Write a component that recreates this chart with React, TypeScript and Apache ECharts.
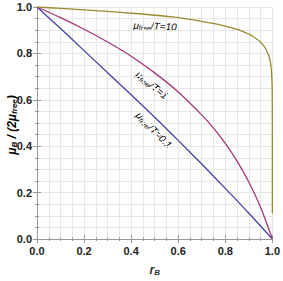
import React, { useEffect, useRef } from "react";
import * as echarts from "echarts";

const rB01 = [0, 0.1, 0.2, 0.3, 0.4, 0.5, 0.6, 0.7, 0.8, 0.9, 1.0];
const mu01 = [1, 0.907, 0.812, 0.717, 0.622, 0.525, 0.425, 0.323, 0.218, 0.111, 0];

const rB1 = [0, 0.1, 0.2, 0.3, 0.4, 0.5, 0.6, 0.7, 0.75, 0.8, 0.85, 0.9, 0.95, 1.0];
const mu1 = [1, 0.954, 0.904, 0.849, 0.788, 0.716, 0.634, 0.535, 0.478, 0.412, 0.336, 0.246, 0.137, 0];

const rB10 = [0, 0.1, 0.2, 0.3, 0.435, 0.575, 0.7, 0.8, 0.86, 0.92, 0.96, 0.985, 0.995, 0.999, 0.9998, 1.0];
const mu10 = [1, 0.994, 0.988, 0.981, 0.971, 0.957, 0.938, 0.918, 0.9, 0.872, 0.838, 0.79, 0.737, 0.66, 0.56, 0.11];

const tickLabels = ["0.0", "0.2", "0.4", "0.6", "0.8", "1.0"];

const BLUE = "#4343a3";
const MAGENTA = "#a3387a";
const OLIVE = "#9a8a2c";

const zip = (xs: number[], ys: number[]) => xs.map((x, i) => [x, ys[i]]);

export default function App() {
  const ref = useRef<HTMLDivElement>(null);
  useEffect(() => {
    const chart = echarts.init(ref.current!, null, { renderer: "svg" });
    const font = "Liberation Sans";
    const gridColor = "#e6e6e6";
    const frameColor = "#9a9a9a";
    const labelFmt = (v: number) => tickLabels[Math.round(v / 0.2)] ?? "";
    const baseAxis = (pos: string, labels: boolean, margin = 6) => ({
      type: "value",
      min: 0,
      max: 1,
      interval: 0.2,
      position: pos,
      axisLine: { show: true, lineStyle: { color: frameColor, width: 1 } },
      axisTick: { show: true, inside: true, length: 4, lineStyle: { color: frameColor } },
      minorTick: { show: true, splitNumber: 4, length: 2, lineStyle: { color: frameColor } },
      splitLine: { show: labels, lineStyle: { color: gridColor, width: 1 } },
      minorSplitLine: { show: labels, lineStyle: { color: gridColor, width: 1 } },
      axisLabel: {
        show: labels,
        formatter: labelFmt,
        fontFamily: font,
        fontWeight: "bold",
        fontSize: 11,
        color: "#222",
        margin,
      },
    });
    const sub = (color: string) => ({
      mu: { fontFamily: font, fontSize: 10, fontStyle: "italic", color },
      sub: { fontFamily: font, fontSize: 7, fontStyle: "italic", color, padding: [5, 0, 0, 0] },
      t: { fontFamily: font, fontSize: 10, fontStyle: "italic", color },
    });
    const curveLabel = (text: string, color: string, x: number, y: number, rot: number) => ({
      type: "text",
      x,
      y,
      rotation: rot,
      style: {
        text: `{mu|μ}{sub|free}{t|/T=${text}}`,
        rich: sub(color),
        align: "center",
        verticalAlign: "middle",
      },
    });
    const lineSeries = (xs: number[], ys: number[], color: string, smooth: number) => ({
      type: "line",
      data: zip(xs, ys),
      showSymbol: false,
      smooth,
      lineStyle: { color, width: 1.3 },
    });
    chart.setOption({
      animation: false,
      grid: { left: 37, right: 9, top: 7, bottom: 37, containLabel: false },
      xAxis: [
        {
          ...baseAxis("bottom", true, 6),
          name: "{r|r}{b|B}",
          nameLocation: "middle",
          nameGap: 24,
          nameTextStyle: {
            rich: {
              r: { fontFamily: font, fontSize: 12, fontStyle: "italic", fontWeight: "bold", color: "#333" },
              b: { fontFamily: font, fontSize: 8, fontStyle: "italic", fontWeight: "bold", color: "#333", padding: [5, 0, 0, 0] },
            },
          },
        },
        { ...baseAxis("top", false) },
      ],
      yAxis: [
        { ...baseAxis("left", true, 5) },
        { ...baseAxis("right", false) },
      ],
      graphic: [
        {
          type: "text",
          x: 12,
          y: 125,
          rotation: Math.PI / 2,
          style: {
            text: "{m|μ}{s|B}{m| / (2}{m|μ}{s|free}{m|)}",
            align: "center",
            verticalAlign: "middle",
            rich: {
              m: { fontFamily: font, fontSize: 12, fontWeight: "bold", fontStyle: "italic", color: "#333" },
              s: { fontFamily: font, fontSize: 8, fontWeight: "bold", fontStyle: "italic", color: "#333", padding: [5, 0, 0, 0] },
            },
          },
        },
        curveLabel("10", OLIVE, 155, 26, -0.04),
        curveLabel("1", MAGENTA, 152, 85, -0.68),
        curveLabel("0.1", BLUE, 154, 130, -0.79),
      ],
      series: [
        lineSeries(rB01, mu01, BLUE, 0.3),
        lineSeries(rB1, mu1, MAGENTA, 0.3),
        lineSeries(rB10, mu10, OLIVE, 0.2),
      ],
    });
    return () => chart.dispose();
  }, []);
  return (
    <div
      ref={ref}
      style={{ position: "absolute", left: 0, top: 0, width: 283, height: 281 }}
    />
  );
}
